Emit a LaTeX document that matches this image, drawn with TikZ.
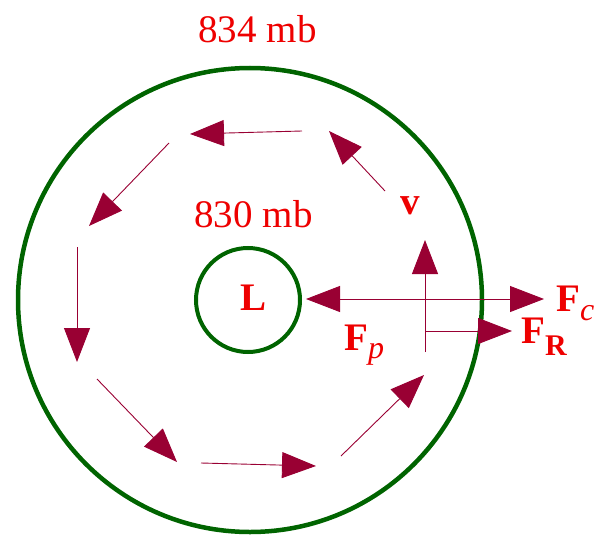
\documentclass[tikz,border=0pt]{standalone}
\usepackage{fontspec}
\setmainfont{Liberation Serif}
\usetikzlibrary{arrows.meta}
\definecolor{wine}{RGB}{153,0,51}
\definecolor{lblred}{RGB}{238,0,0}
\definecolor{isogreen}{RGB}{0,100,0}
\begin{document}
\begin{tikzpicture}[x=1pt,y=-1pt,
  flow/.style={draw=wine,line width=0.9pt,-{Triangle[length=34pt,width=26pt]}},
  lbl/.style={text=lblred,font=\fontsize{39}{40}\selectfont,inner sep=0pt},
  blbl/.style={lbl,font=\fontsize{39}{40}\selectfont\bfseries},
  iso/.style={draw=isogreen}]
\useasboundingbox (0,0) rectangle (597,535);
% isobars
\draw[iso,line width=4.5pt] (250,300) circle[radius=232pt];
\node[iso,circle,line width=4pt,minimum size=104pt,inner sep=0pt] (low) at (248,300) {};
\node[blbl,anchor=base] (Ltext) at (253.5,310) {L};
% pressure labels
\node[lbl,anchor=base] (p834) at (257.5,43) {834 mb};
\node[lbl,anchor=base] (p830) at (253.5,227) {830 mb};
% circulation arrows
\coordinate (a1s) at (302,131); \coordinate (a1e) at (190,134);
\coordinate (a2s) at (385,191); \coordinate (a2e) at (329,131);
\coordinate (a3s) at (169,143); \coordinate (a3e) at (89,226);
\coordinate (a4s) at (77,247);  \coordinate (a4e) at (77,362);
\coordinate (a5s) at (97,379);  \coordinate (a5e) at (177,462);
\coordinate (a6s) at (201,463); \coordinate (a6e) at (316,466);
\coordinate (a7s) at (341,456); \coordinate (a7e) at (424,375);
\draw[flow] (a1s) -- (a1e);
\draw[flow] (a2s) -- (a2e);
\draw[flow] (a3s) -- (a3e);
\draw[flow] (a4s) -- (a4e);
\draw[flow] (a5s) -- (a5e);
\draw[flow] (a6s) -- (a6e);
\draw[flow] (a7s) -- (a7e);
% force diagram
\coordinate (vbase) at (425,352);
\coordinate (vtip) at (425,240);
\coordinate (forg) at (425,299);
\coordinate (fptip) at (306,299);
\coordinate (fctip) at (544,299);
\coordinate (frorg) at (425,331);
\coordinate (frtip) at (512,331);
\draw[flow] (vbase) -- (vtip);
\draw[flow] (forg) -- (fptip);
\draw[flow] (forg) -- (fctip);
\draw[flow] (frorg) -- (frtip);
% force labels
\node[blbl,anchor=base] (vlbl) at (410.5,214) {v};
\node[lbl,anchor=base west] (fp) at (344,350) {\textbf{F}\raisebox{-8pt}{\fontsize{32}{32}\selectfont\itshape p}};
\node[lbl,anchor=base west] (fc) at (556,311) {\textbf{F}\raisebox{-9pt}{\fontsize{32}{32}\selectfont\itshape c}};
\node[lbl,anchor=base west] (fr) at (521,343) {\textbf{F}\raisebox{-12pt}{\fontsize{30}{30}\selectfont\bfseries R}};
\end{tikzpicture}
\end{document}
